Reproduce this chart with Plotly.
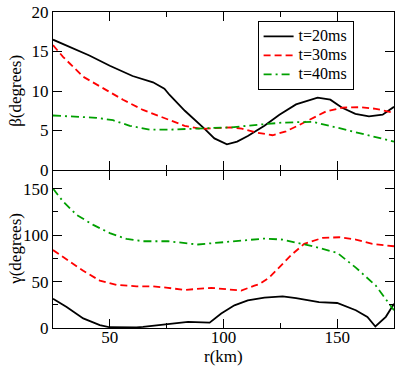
import plotly.graph_objects as go

# ---- data ----
legend_names = ["t=20ms", "t=30ms", "t=40ms"]

# beta (top panel)
r_beta_20 = [25, 32.5, 41, 50, 60, 69, 74, 76.3, 83, 91.7, 96, 101.5, 106, 110.7, 118, 124.6, 131.9, 141.4, 147, 152, 158, 164, 170, 175]
beta_20 = [16.5, 15.6, 14.5, 13.2, 11.9, 11.1, 10.3, 9.5, 7.5, 5.2, 4.0, 3.25, 3.6, 4.3, 5.6, 7.0, 8.3, 9.15, 8.9, 7.9, 7.1, 6.8, 7.0, 8.0]

r_beta_30 = [25, 29.5, 38.3, 47, 55.8, 64.6, 74, 82.9, 90.2, 96, 103, 108, 114.3, 121.6, 127.5, 133.3, 139.2, 145, 152.3, 160, 167, 175]
beta_30 = [15.8, 14.3, 11.8, 10.4, 8.9, 7.6, 6.6, 5.6, 5.2, 5.3, 5.4, 5.25, 4.75, 4.4, 4.9, 5.7, 6.6, 7.4, 7.9, 7.95, 7.75, 7.25]

r_beta_40 = [25, 32.5, 44.2, 51.4, 58.8, 67.5, 75.6, 88.7, 103.4, 118, 126, 132, 139.2, 148, 155, 162.6, 168, 175]
beta_40 = [6.9, 6.8, 6.6, 6.3, 5.6, 5.1, 5.1, 5.25, 5.4, 5.8, 6.0, 6.05, 6.1, 5.5, 5.0, 4.55, 4.1, 3.6]

# gamma (bottom panel)
r_gamma_20 = [25, 31, 38.3, 45.6, 50, 53, 61.7, 64.6, 70, 77.8, 84.4, 93.9, 99, 104.8, 110.7, 118, 126, 131.9, 142, 150, 158.2, 163.3, 166.8, 171.4, 175]
gamma_20 = [31.5, 22.6, 10.3, 3.2, 0.8, 0.7, 0.7, 1.2, 2.5, 5.0, 6.5, 5.7, 15.6, 24.4, 29.7, 32.6, 34, 32.2, 27.9, 26.9, 19.1, 12, 1.6, 12, 26]

r_gamma_30 = [25, 31, 38.3, 45.6, 53, 61.7, 69, 75.6, 82.9, 94.6, 101, 107.8, 113.6, 116, 120.2, 124.6, 130, 135.5, 139.2, 143.6, 151, 158.2, 165.5, 175]
gamma_30 = [83.9, 74, 61.6, 51, 46.4, 44.9, 44.9, 43.2, 41, 43.2, 42, 40.3, 45.6, 47.5, 54.5, 65, 79, 90.6, 93.4, 97, 97.7, 95.2, 90.6, 88]

r_gamma_40 = [25, 29.5, 35.4, 42.7, 50, 57.3, 64.6, 75.6, 88.7, 103.4, 118, 126, 132, 139.2, 150, 158.2, 167, 175]
gamma_40 = [150, 136, 121.8, 111, 102.2, 95.9, 93.4, 93.4, 89.9, 93.4, 96.3, 95.2, 92, 88, 81, 65, 45.6, 19.1]

x_tick_vals = [50, 100, 150]
beta_tick_vals = [0, 5, 10, 15, 20]
gamma_tick_vals = [0, 50, 100, 150]

# ---- styles ----
colors = ["black", "#ff0000", "#00a000"]
dashes = ["solid", "7px,4px", "8px,4px,2px,4px"]
FONT = "Liberation Serif"

fig = go.Figure()
beta_series = [(r_beta_20, beta_20), (r_beta_30, beta_30), (r_beta_40, beta_40)]
gamma_series = [(r_gamma_20, gamma_20), (r_gamma_30, gamma_30), (r_gamma_40, gamma_40)]

for i, (xs, ys) in enumerate(beta_series):
    fig.add_trace(go.Scatter(x=xs, y=ys, mode="lines",
                             name="<span style='font-size:16px'>%s</span>" % legend_names[i],
                             line=dict(color=colors[i], width=1.8, dash=dashes[i]),
                             xaxis="x", yaxis="y"))
for i, (xs, ys) in enumerate(gamma_series):
    fig.add_trace(go.Scatter(x=xs, y=ys, mode="lines", name=legend_names[i],
                             showlegend=False,
                             line=dict(color=colors[i], width=1.8, dash=dashes[i]),
                             xaxis="x2", yaxis="y2"))


def axis_common():
    return dict(showline=True, linecolor="black", linewidth=1.2, mirror="ticks",
                ticks="inside", ticklen=9, tickwidth=1.2, tickcolor="black",
                showgrid=False, zeroline=False, ticklabeloverflow="allow",
                tickfont=dict(family=FONT, size=17, color="black"))


fig.update_layout(
    width=398, height=367,
    margin=dict(l=53, r=3, t=8, b=39),
    paper_bgcolor="white", plot_bgcolor="white",
    font=dict(family=FONT, size=17, color="black"),
    xaxis=dict(**axis_common(), domain=[0, 1], anchor="y", range=[25, 175],
               tickvals=x_tick_vals, showticklabels=False,
               minor=dict(dtick=25, tick0=25, ticks="inside", ticklen=5, tickcolor="black")),
    yaxis=dict(**axis_common(), domain=[0.5, 1], anchor="x", range=[0, 20],
               tickvals=beta_tick_vals),
    xaxis2=dict(**axis_common(), domain=[0, 1], anchor="y2", range=[25, 175],
                tickvals=x_tick_vals, ticklabelstandoff=-7,
                minor=dict(dtick=25, tick0=25, ticks="inside", ticklen=5, tickcolor="black")),
    yaxis2=dict(**axis_common(), domain=[0, 0.4962], anchor="x2", range=[0, 168.8],
                tickvals=gamma_tick_vals,
                minor=dict(dtick=25, ticks="inside", ticklen=5, tickcolor="black")),
    legend=dict(x=0.6, y=0.972, xanchor="left", yanchor="top",
                bgcolor="white", bordercolor="black", borderwidth=1,
                font=dict(family=FONT, size=12, color="black"),
                itemwidth=30, tracegroupgap=0),
    showlegend=True,
)

# axis titles
fig.add_annotation(text="β(degrees)", xref="paper", yref="paper", x=-0.112, y=0.75,
                   xanchor="center", yanchor="middle", textangle=-90, showarrow=False,
                   font=dict(family=FONT, size=17, color="black"))
fig.add_annotation(text="γ(degrees)", xref="paper", yref="paper", x=-0.112, y=0.25,
                   xanchor="center", yanchor="middle", textangle=-90, showarrow=False,
                   font=dict(family=FONT, size=17, color="black"))
fig.add_annotation(text="r(km)", xref="paper", yref="paper", x=0.5, y=-0.091,
                   xanchor="center", yanchor="middle", showarrow=False,
                   font=dict(family=FONT, size=17, color="black"))

fig.write_html("out.html", config={"displayModeBar": False},
               post_script="document.body.style.margin='0';document.body.style.padding='0';")
